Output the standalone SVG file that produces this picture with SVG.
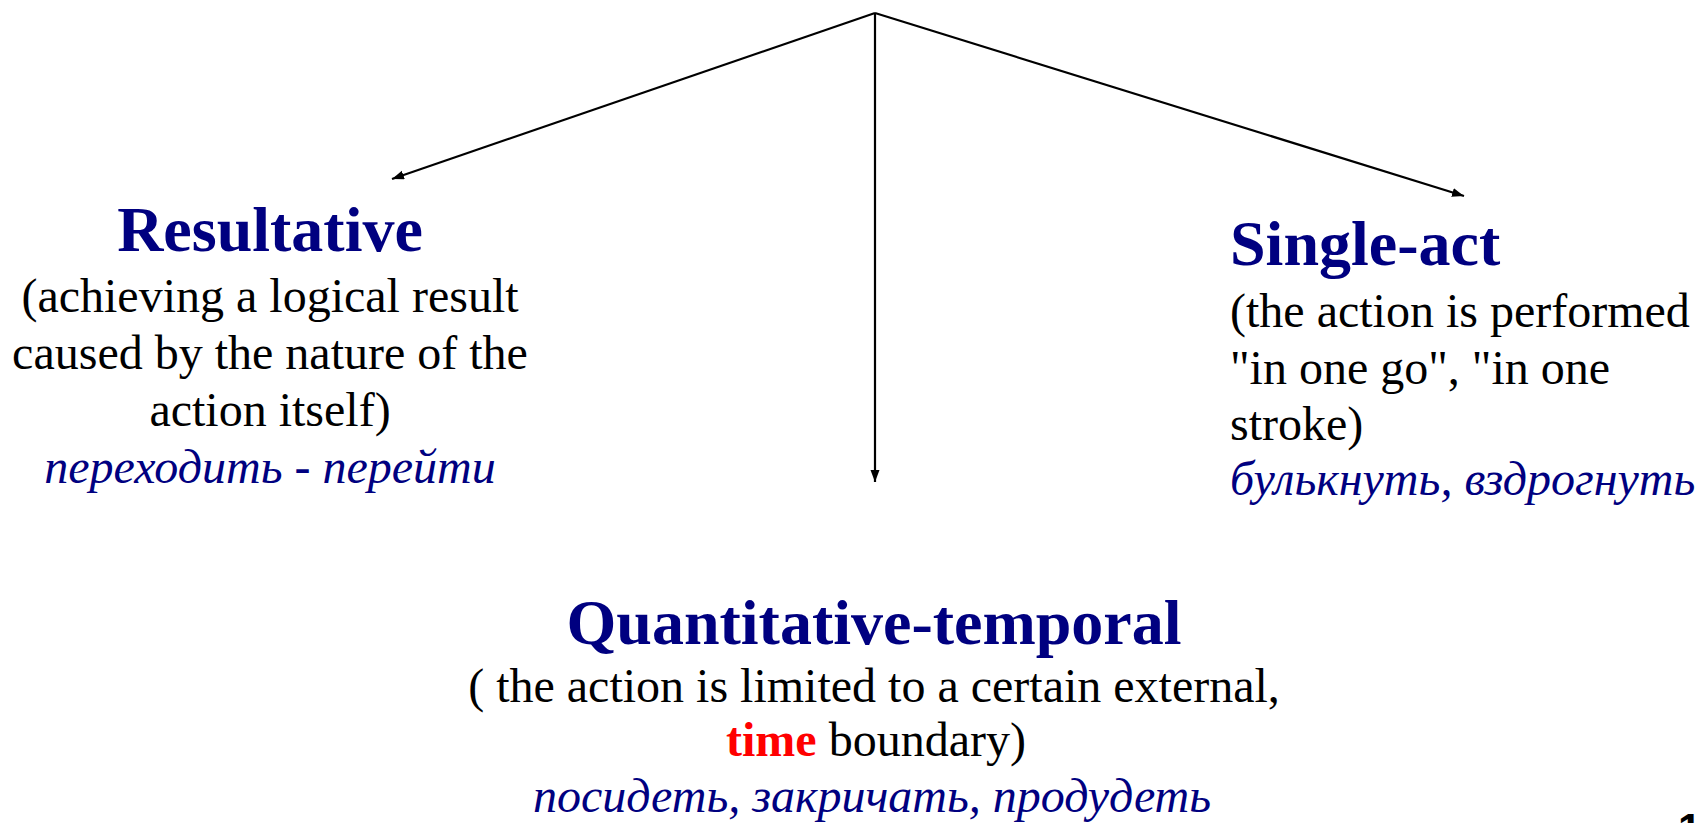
<svg xmlns="http://www.w3.org/2000/svg" width="1698" height="823" viewBox="0 0 1698 823">
<style>
.title{font-family:"Liberation Serif","Times New Roman",serif;font-weight:bold;font-size:64px;fill:#000080}
.body{font-family:"Liberation Serif","Times New Roman",serif;font-size:48px;fill:#000000}
.ex{font-family:"Liberation Serif","Times New Roman",serif;font-style:italic;font-size:48px;fill:#000080}
.red{font-weight:bold;fill:#FF0000}
.conn{stroke:#000;stroke-width:2.2;fill:none}
</style>
<defs>
<marker id="arrow" markerUnits="userSpaceOnUse" markerWidth="14" markerHeight="10" refX="12" refY="4.5" orient="auto">
<path d="M0,0 L12,4.5 L0,9 z" fill="#000"/>
</marker>
</defs>
<rect width="1698" height="823" fill="#fff"/>
<g id="connectors">
<line class="conn" x1="875" y1="13" x2="392" y2="179" marker-end="url(#arrow)"/>
<line class="conn" x1="875" y1="13" x2="1464" y2="196" marker-end="url(#arrow)"/>
<line class="conn" x1="875" y1="13" x2="875" y2="482" marker-end="url(#arrow)"/>
</g>
<g id="resultative" text-anchor="middle">
<text class="title" x="270" y="251">Resultative</text>
<text class="body" x="270" y="312">(achieving a logical result</text>
<text class="body" x="270" y="369">caused by the nature of the</text>
<text class="body" x="270" y="426">action itself)</text>
<text class="ex" x="270" y="483">переходить - перейти</text>
</g>
<g id="single-act">
<text class="title" x="1230" y="265">Single-act</text>
<text class="body" x="1230" y="327">(the action is performed</text>
<text class="body" x="1230" y="384">"in one go", "in one</text>
<text class="body" x="1230" y="440">stroke)</text>
<text class="ex" x="1230" y="495">булькнуть, вздрогнуть</text>
</g>
<g id="quantitative-temporal" text-anchor="middle">
<text class="title" x="874" y="644">Quantitative-temporal</text>
<text class="body" x="874" y="702">( the action is limited to a certain external,</text>
<text class="body" x="876" y="756"><tspan class="red">time</tspan> boundary)</text>
<text class="ex" x="872" y="812">посидеть, закричать, продудеть</text>
</g>
<g id="page-number">
<text x="1678" y="843" font-family="Liberation Sans, Arial, sans-serif" font-weight="bold" font-size="42" fill="#000">1</text>
</g>
</svg>
